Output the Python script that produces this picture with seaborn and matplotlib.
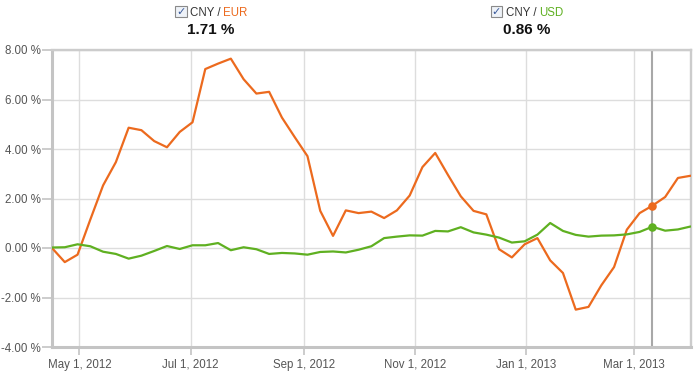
import numpy as np
import pandas as pd
import matplotlib
matplotlib.use("Agg")
import matplotlib.pyplot as plt
import matplotlib.dates as mdates
from matplotlib.patches import Rectangle
import seaborn as sns

# ---- data ----
start_date = "2012-04-16"
n_weeks = 51
eur = [0.00, -0.57, -0.27, 1.15, 2.53, 3.47, 4.86, 4.76, 4.32, 4.07,
       4.69, 5.08, 7.23, 7.45, 7.65, 6.82, 6.24, 6.31, 5.27, 4.48,
       3.71, 1.50, 0.49, 1.52, 1.41, 1.47, 1.21, 1.52, 2.12, 3.27,
       3.84, 2.95, 2.09, 1.50, 1.36, -0.05, -0.38, 0.15, 0.40, -0.50,
       -1.01, -2.49, -2.38, -1.51, -0.77, 0.74, 1.41, 1.71, 2.06, 2.83,
       2.92]
usd = [0.02, 0.03, 0.15, 0.07, -0.15, -0.24, -0.43, -0.31, -0.12, 0.08,
       -0.04, 0.11, 0.11, 0.20, -0.09, 0.03, -0.05, -0.24, -0.20, -0.22,
       -0.27, -0.16, -0.14, -0.18, -0.07, 0.07, 0.40, 0.46, 0.51, 0.50,
       0.69, 0.67, 0.84, 0.63, 0.54, 0.42, 0.22, 0.27, 0.54, 1.01,
       0.69, 0.53, 0.46, 0.50, 0.51, 0.55, 0.65, 0.86, 0.70, 0.75,
       0.87]
series_names = ["CNY / EUR", "CNY / USD"]
highlight_index = 47
yticks = [-4, -2, 0, 2, 4, 6, 8]

dates = pd.date_range(start_date, periods=n_weeks, freq="7D")
df = pd.DataFrame({
    "date": np.concatenate([dates, dates]),
    "value": eur + usd,
    "series": [series_names[0]] * n_weeks + [series_names[1]] * n_weeks,
})

colors = {"CNY / EUR": "#EC6A1E", "CNY / USD": "#5FB021"}

sns.set_theme(style="white")
plt.rcParams["font.family"] = ["Liberation Sans", "DejaVu Sans"]

W, H = 697, 381
fig = plt.figure(figsize=(W / 100, H / 100), dpi=100)
L, R, T, B = 52, 690.7, 50, 347
ax = fig.add_axes([L / W, 1 - B / H, (R - L) / W, (B - T) / H])

ax.grid(True, color="#dddddd", linewidth=1.0)
ax.set_axisbelow(True)

sns.lineplot(data=df, x="date", y="value", hue="series", palette=colors,
             linewidth=1.6, ax=ax, legend=False, zorder=3)

hd = dates[highlight_index]
ax.axvline(hd, color="#a8a8a8", linewidth=1.5, zorder=2)
for name, vals in zip(series_names, [eur, usd]):
    ax.scatter([hd], [vals[highlight_index]], s=38, color=colors[name],
               zorder=4, linewidths=0)

ax.set_xlim(dates[0], dates[-1])
ax.set_ylim(-4, 8)
ax.set_yticks(yticks)
ax.set_yticklabels([f"{v:.2f} %" for v in yticks])
ax.xaxis.set_major_locator(mdates.MonthLocator(bymonth=[1, 3, 5, 7, 9, 11]))
ax.xaxis.set_major_formatter(mdates.DateFormatter("%b %-d, %Y"))
ax.set_xlabel("")
ax.set_ylabel("")

for side in ["left", "bottom"]:
    ax.spines[side].set_color("#c4c4c4")
    ax.spines[side].set_linewidth(2.2)
for side in ["top", "right"]:
    ax.spines[side].set_color("#cccccc")
    ax.spines[side].set_linewidth(1.7)

ax.tick_params(axis="both", which="major", labelsize=8.3, colors="#c4c4c4",
               labelcolor="#555555", width=1.2, direction="out")
ax.tick_params(axis="x", bottom=True, length=5.5, pad=3)
ax.tick_params(axis="y", left=True, length=7, pad=1)

# ---- header legend ----
def px(x, y):
    return x / W, 1 - y / H

def checkbox(x0, y0):
    fig.patches.append(Rectangle(px(x0, y0 + 10), 11 / W, 10 / H,
                                 transform=fig.transFigure, facecolor="#eef2f8",
                                 edgecolor="#8a8a8a", linewidth=0.8))
    fig.text(*px(x0 + 5.5, y0 + 5.5), "\u2713", color="#3a5a9a", fontsize=8,
             ha="center", va="center", family=["DejaVu Sans"], fontweight="bold")

checkbox(175.5, 6.5)
fig.text(*px(190.5, 13), "CNY / ", color="#333333", fontsize=8.3, ha="left", va="center")
fig.text(*px(223.3, 13), "EUR", color=colors["CNY / EUR"], fontsize=8.3, ha="left", va="center")
fig.text(*px(211, 29.5), f"{eur[highlight_index]:.2f} %", color="#111111", fontsize=11,
         fontweight="bold", ha="center", va="center")

checkbox(490.5, 6.5)
fig.text(*px(506.5, 13), "CNY / ", color="#333333", fontsize=8.3, ha="left", va="center")
fig.text(*px(539.3, 13), "USD", color=colors["CNY / USD"], fontsize=8.3, ha="left", va="center")
fig.text(*px(527, 29.5), f"{usd[highlight_index]:.2f} %", color="#111111", fontsize=11,
         fontweight="bold", ha="center", va="center")

fig.savefig("out.png", dpi=100)
